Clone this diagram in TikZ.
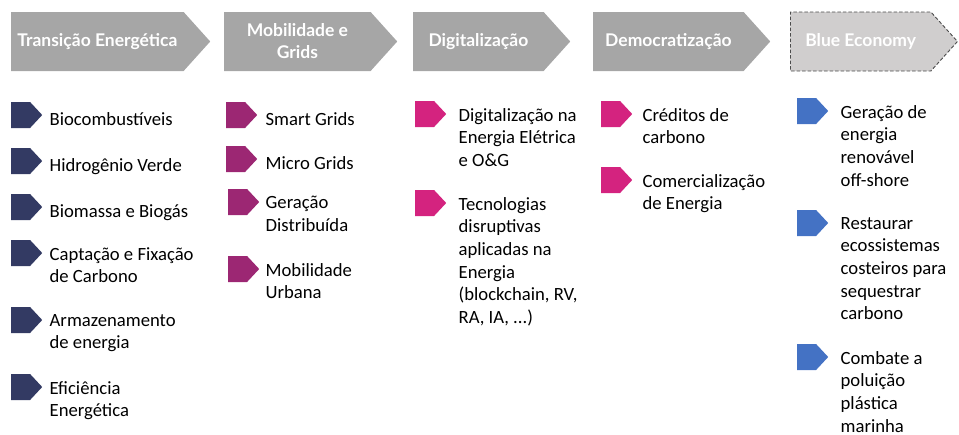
\documentclass[tikz,border=0pt]{standalone}
\usepackage{fontspec}
\setmainfont{Carlito}
\newfontfamily\headfont{Lato}
\usetikzlibrary{positioning, shapes.symbols}

\definecolor{headgray}{HTML}{A6A6A6}
\definecolor{bluegray}{HTML}{D0CECE}
\definecolor{navy}{HTML}{333A63}
\definecolor{grape}{HTML}{9C2773}
\definecolor{magenta}{HTML}{D4237F}
\definecolor{oceanblue}{HTML}{4472C4}

\begin{document}
\begin{tikzpicture}[x=1pt, y=-1pt,
	head/.style={signal, signal to=east, signal pointer angle=96, fill=headgray, text=white, minimum height=59pt, inner sep=0pt, align=center, font=\headfont\bfseries\fontsize{17.5}{22}\selectfont},
	arrowmark/.style={signal, signal to=east, signal pointer angle=94, anchor=west, minimum width=31pt, minimum height=26pt, inner sep=0pt},
	item/.style={align=left, inner sep=0pt, yshift=6pt, font=\fontsize{18.67}{22.7}\selectfont, execute at begin node=\strut}]
	
	\useasboundingbox (0,0) rectangle (959,434);
	
	% Define header arrows
	\node [head, anchor=west, minimum width=199pt] (trans) at (11,41.5) {Transição Energética};
	\node [head, anchor=west, minimum width=173pt] (mobil) at (224,41.5) {Mobilidade e\\Grids};
	\node [head, anchor=west, minimum width=157pt] (digit) at (413,41.5) {Digitalização};
	\node [head, anchor=west, minimum width=177pt] (democ) at (593,41.5) {Democratização};
	\node [head, anchor=west, minimum width=167pt, fill=bluegray, draw=black!70, dash pattern=on 3.5pt off 2pt, line width=0.9pt] (blue) at (790,41.5) {Blue Economy};
	
	% Transição Energética
	\node [arrowmark, fill=navy] (b11) at (11,115) {};
	\node [arrowmark, fill=navy] (b12) at (11,161) {};
	\node [arrowmark, fill=navy] (b13) at (11,207) {};
	\node [arrowmark, fill=navy] (b14) at (11,253) {};
	\node [arrowmark, fill=navy] (b15) at (11,320) {};
	\node [arrowmark, fill=navy] (b16) at (11,387) {};
	\node [item, right=7pt of b11.east, anchor=north west] (t11) {Biocombustíveis};
	\node [item, right=7pt of b12.east, anchor=north west] (t12) {Hidrogênio Verde};
	\node [item, right=7pt of b13.east, anchor=north west] (t13) {Biomassa e Biogás};
	\node [item, right=7pt of b14.east, anchor=north west] (t14) {Captação e Fixação\\de Carbono};
	\node [item, right=7pt of b15.east, anchor=north west] (t15) {Armazenamento\\de energia};
	\node [item, right=7pt of b16.east, anchor=north west] (t16) {Eficiência\\Energética};
	
	% Mobilidade e Grids
	\node [arrowmark, fill=grape] (b21) at (226,115) {};
	\node [arrowmark, fill=grape] (b22) at (226,159) {};
	\node [arrowmark, fill=grape] (b23) at (228,202) {};
	\node [arrowmark, fill=grape] (b24) at (228,269) {};
	\node [item, right=8pt of b21.east, anchor=north west] (t21) {Smart Grids};
	\node [item, right=8pt of b22.east, anchor=north west] (t22) {Micro Grids};
	\node [item, right=6pt of b23.east, anchor=north west] (t23) {Geração\\Distribuída};
	\node [item, right=6pt of b24.east, anchor=north west] (t24) {Mobilidade\\Urbana};
	
	% Digitalização
	\node [arrowmark, fill=magenta] (b31) at (415,114) {};
	\node [arrowmark, fill=magenta] (b32) at (415,203) {};
	\node [item, right=12pt of b31.east, anchor=north west] (t31) {Digitalização na\\Energia Elétrica\\e O\&G};
	\node [item, right=12pt of b32.east, anchor=north west] (t32) {Tecnologias\\disruptivas\\aplicadas na\\Energia\\(blockchain, RV,\\RA, IA, ...)};
	
	% Democratização
	\node [arrowmark, fill=magenta] (b41) at (601,114) {};
	\node [arrowmark, fill=magenta] (b42) at (601,180) {};
	\node [item, right=10pt of b41.east, anchor=north west] (t41) {Créditos de\\carbono};
	\node [item, right=10pt of b42.east, anchor=north west] (t42) {Comercialização\\de Energia};
	
	% Blue Economy
	\node [arrowmark, fill=oceanblue] (b51) at (797,111) {};
	\node [arrowmark, fill=oceanblue] (b52) at (797,223) {};
	\node [arrowmark, fill=oceanblue] (b53) at (797,357) {};
	\node [item, right=12pt of b51.east, anchor=north west] (t51) {Geração de\\energia\\renovável\\off-shore};
	\node [item, right=12pt of b52.east, anchor=north west] (t52) {Restaurar\\ecossistemas\\costeiros para\\sequestrar\\carbono};
	\node [item, right=12pt of b53.east, anchor=north west] (t53) {Combate a\\poluição\\plástica\\marinha};
	
\end{tikzpicture}
\end{document}
